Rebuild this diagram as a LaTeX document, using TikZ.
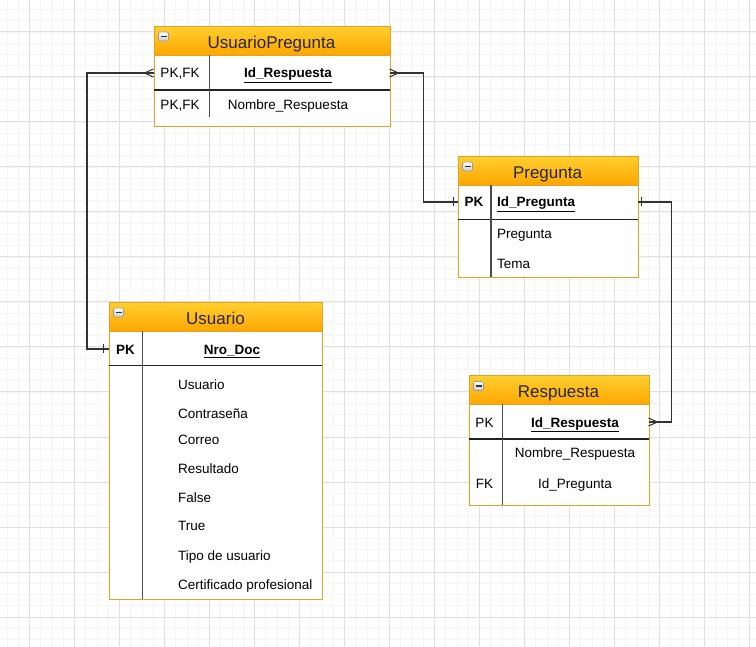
\documentclass[tikz,border=0pt]{standalone}
\usepackage{fontspec}
\setmainfont{Liberation Sans}
\usetikzlibrary{calc}
\definecolor{gridminor}{HTML}{F6F6F6}
\definecolor{gridmajor}{HTML}{E0E0E0}
\definecolor{hdtop}{HTML}{FFCF2E}
\definecolor{hdbot}{HTML}{FFA500}
\definecolor{tborder}{HTML}{DDA521}
\definecolor{conncol}{HTML}{333333}
\definecolor{sepcol}{HTML}{222222}
\begin{document}
\begin{tikzpicture}[x=1pt,y=-1pt,
  tablebox/.style={draw=tborder, line width=1pt, fill=white, rectangle, inner sep=0pt, anchor=north west},
  headbox/.style={draw=tborder, line width=1pt, rectangle, inner sep=0pt, anchor=north west, top color=hdtop, bottom color=hdbot},
  titletext/.style={font=\fontsize{17}{20}\selectfont, text=black!85, inner sep=0pt, anchor=base, yshift=-6.1pt},
  fieldtext/.style={font=\fontsize{13.5}{16}\selectfont, text=black, inner sep=0pt, anchor=base, yshift=-4.8pt},
  keytext/.style={font=\fontsize{13.5}{16}\selectfont\bfseries, text=black, inner sep=0pt, anchor=base, yshift=-4.8pt},
  iconbox/.style={draw=gray!80, line width=0.7pt, rounded corners=1.5pt, top color=white, bottom color=gray!40, minimum width=10pt, minimum height=9pt, inner sep=0pt},
  iconbar/.style={draw=gray!40!black, line width=1.8pt},
  sepline/.style={draw=sepcol, line width=1.2pt},
  divline/.style={draw=black!70, line width=1.2pt},
  conn/.style={draw=conncol, line width=1.3pt},
  erend/.style={draw=conncol, line width=1pt}
]
\useasboundingbox (0,0) rectangle (756,647);
% grid
\begin{scope}
\clip (0,0) rectangle (756,647);
\foreach \i in {0,...,69} \draw[gridminor, line width=0.9pt] ({-15.5+11.25*\i},0) -- ({-15.5+11.25*\i},647);
\foreach \i in {0,...,59} \draw[gridminor, line width=0.9pt] (0,{-13+11.25*\i}) -- (756,{-13+11.25*\i});
\foreach \i in {0,...,17} \draw[gridmajor, line width=1pt] ({-15.5+45*\i},0) -- ({-15.5+45*\i},647);
\foreach \i in {0,...,15} \draw[gridmajor, line width=1pt] (0,{-13+45*\i}) -- (756,{-13+45*\i});
\end{scope}

% ===== UsuarioPregunta =====
\node[tablebox, minimum width=236pt, minimum height=100pt] (up) at (153.5,26) {};
\node[headbox, minimum width=236pt, minimum height=29pt] (uph) at (153.5,26) {};
\node[titletext] (upt) at (271.5,42) {UsuarioPregunta};
\node[iconbox] (upi) at (163.5,36.5) {};
\draw[iconbar] ($(upi.center)+(-3,0)$) -- ($(upi.center)+(3,0)$);
\draw[sepline] (153.5,90) -- (389.5,90);
\draw[divline] (209.5,55) -- (209.5,117);
\node[fieldtext] (upk1) at (180,73) {PK,FK};
\node[keytext] (upf1) at (288,73) {\underline{Id\_Respuesta}};
\node[fieldtext] (upk2) at (180,105) {PK,FK};
\node[fieldtext] (upf2) at (288,105) {Nombre\_Respuesta};

% ===== Pregunta =====
\node[tablebox, minimum width=180pt, minimum height=121.5pt] (pr) at (457.5,156) {};
\node[headbox, minimum width=180pt, minimum height=29pt] (prh) at (457.5,156) {};
\node[titletext] (prt) at (547.5,172) {Pregunta};
\node[iconbox] (pri) at (467.5,166.5) {};
\draw[iconbar] ($(pri.center)+(-3,0)$) -- ($(pri.center)+(3,0)$);
\draw[sepline] (457.5,219.5) -- (637.5,219.5);
\draw[divline] (491,185) -- (491,277.5);
\node[keytext] (prk1) at (474,202) {PK};
\node[keytext, anchor=base west] (prf1) at (497,202) {\underline{Id\_Pregunta}};
\node[fieldtext, anchor=base west] (prf2) at (497,234) {Pregunta};
\node[fieldtext, anchor=base west] (prf3) at (497,263.5) {Tema};

% ===== Usuario =====
\node[tablebox, minimum width=213.5pt, minimum height=296.5pt] (us) at (108.5,302.5) {};
\node[headbox, minimum width=213.5pt, minimum height=28.5pt] (ush) at (108.5,302.5) {};
\node[titletext] (ust) at (215.5,318) {Usuario};
\node[iconbox] (usi) at (118.5,312.5) {};
\draw[iconbar] ($(usi.center)+(-3,0)$) -- ($(usi.center)+(3,0)$);
\draw[sepline] (108.5,365.5) -- (322,365.5);
\draw[divline] (142.5,331) -- (142.5,599);
\node[keytext] (usk1) at (125.5,349.5) {PK};
\node[keytext] (usf1) at (232,349.5) {\underline{Nro\_Doc}};
\node[fieldtext, anchor=base west] (usf2) at (178,385) {Usuario};
\node[fieldtext, anchor=base west] (usf3) at (178,414) {Contraseña};
\node[fieldtext, anchor=base west] (usf4) at (178,439.5) {Correo};
\node[fieldtext, anchor=base west] (usf5) at (178,468.5) {Resultado};
\node[fieldtext, anchor=base west] (usf6) at (178,497.5) {False};
\node[fieldtext, anchor=base west] (usf7) at (178,526) {True};
\node[fieldtext, anchor=base west] (usf8) at (178,556) {Tipo de usuario};
\node[fieldtext, anchor=base west] (usf9) at (178,585) {Certificado profesional};

% ===== Respuesta =====
\node[tablebox, minimum width=180pt, minimum height=129.5pt] (re) at (468.5,375.5) {};
\node[headbox, minimum width=180pt, minimum height=29pt] (reh) at (468.5,375.5) {};
\node[titletext] (ret) at (558.5,391) {Respuesta};
\node[iconbox] (rei) at (478.5,386) {};
\draw[iconbar] ($(rei.center)+(-3,0)$) -- ($(rei.center)+(3,0)$);
\draw[sepline] (468.5,439) -- (648.5,439);
\draw[divline] (502.5,404.5) -- (502.5,505);
\node[fieldtext] (rek1) at (484.5,422.5) {PK};
\node[keytext] (ref1) at (575,422.5) {\underline{Id\_Respuesta}};
\node[fieldtext] (ref2) at (575,453) {Nombre\_Respuesta};
\node[fieldtext] (rek3) at (484.5,483.5) {FK};
\node[fieldtext] (ref3) at (575,483.5) {Id\_Pregunta};

% ===== connector end points =====
\coordinate (upL) at (153.5,73);
\coordinate (upR) at (389.5,73);
\coordinate (prL) at (457.5,202);
\coordinate (prR) at (637.5,202);
\coordinate (usL) at (108.5,349);
\coordinate (reR) at (648.5,422);

% UsuarioPregunta -> Usuario
\draw[conn] (upL) -- ++(-66.5,0) |- (usL);
\draw[erend] ($(upL)+(0,-4)$) -- ($(upL)+(-9,0)$) -- ($(upL)+(0,4)$);
\draw[erend] ($(usL)+(-5,-4.5)$) -- ($(usL)+(-5,4.5)$);

% UsuarioPregunta -> Pregunta
\draw[conn] (upR) -- ++(34,0) |- (prL);
\draw[erend] ($(upR)+(0,-4)$) -- ($(upR)+(9,0)$) -- ($(upR)+(0,4)$);
\draw[erend] ($(prL)+(-4.5,-4.5)$) -- ($(prL)+(-4.5,4.5)$);

% Pregunta -> Respuesta
\draw[conn] (prR) -- ++(34,0) |- (reR);
\draw[erend] ($(prR)+(4,-4.5)$) -- ($(prR)+(4,4.5)$);
\draw[erend] ($(reR)+(0,-4)$) -- ($(reR)+(9,0)$) -- ($(reR)+(0,4)$);
\end{tikzpicture}
\end{document}
